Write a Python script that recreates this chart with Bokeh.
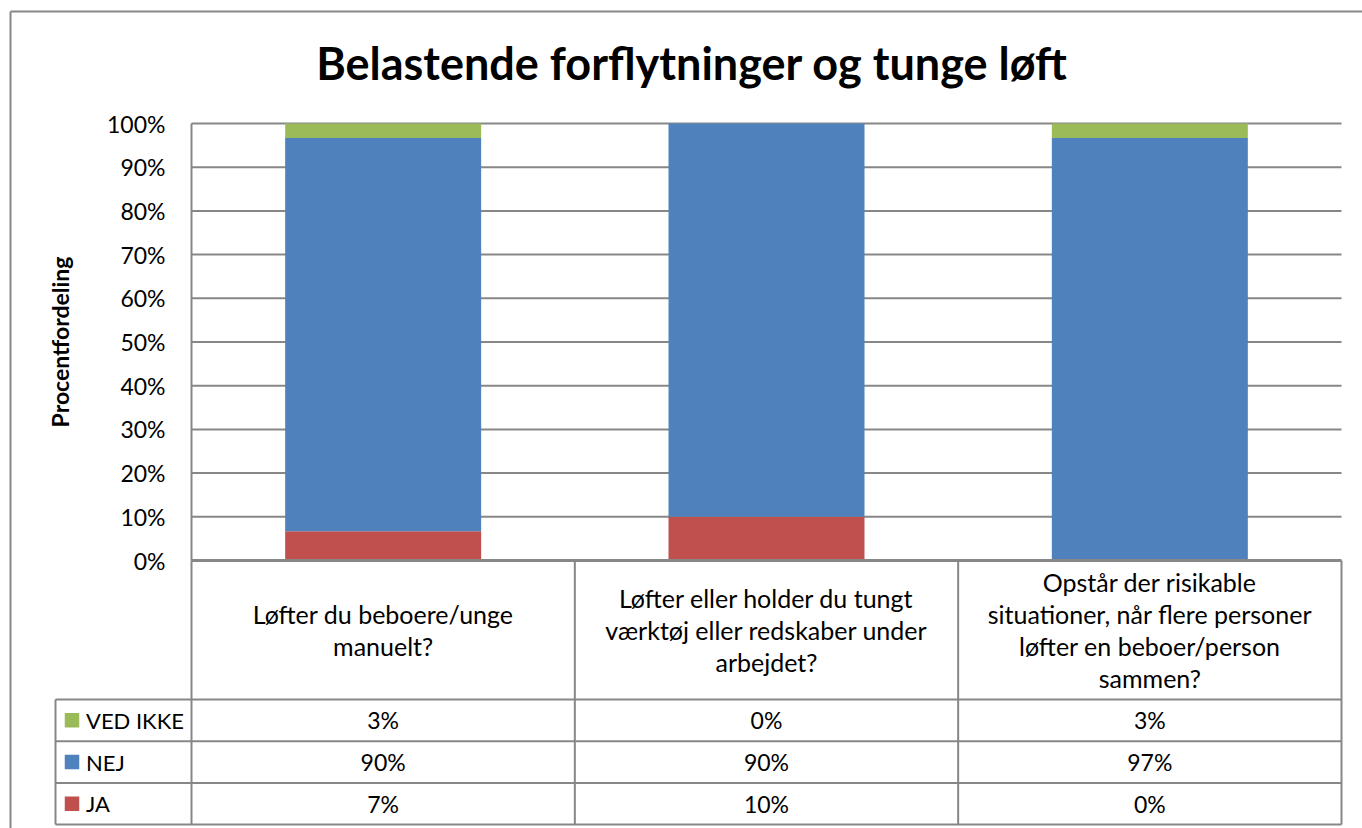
from bokeh.plotting import figure
from bokeh.models import Range1d, FixedTicker, PrintfTickFormatter, ColumnDataSource, Label
from bokeh.embed import file_html
from bokeh.resources import INLINE
from bokeh.core.properties import value

# ---------------- data ----------------
TITLE = "Belastende forflytninger og tunge løft"
Y_LABEL = "Procentfordeling"
QUESTIONS = [
    "Løfter du beboere/unge\nmanuelt?",
    "Løfter eller holder du tungt\nværktøj eller redskaber under\narbejdet?",
    "Opstår der risikable\nsituationer, når flere personer\nløfter en beboer/person\nsammen?",
]
SERIES = ["JA", "NEJ", "VED IKKE"]          # stacking order, bottom -> top
JA = [6.7, 10.0, 0.0]
NEJ = [90.0, 90.0, 96.7]
VED_IKKE = [3.3, 0.0, 3.3]
COLORS = ["#C0504D", "#4F81BD", "#9BBB59"]
Y_TICKS = [0, 10, 20, 30, 40, 50, 60, 70, 80, 90, 100]

# ---------------- layout (pixels) ----------------
W, H = 1362, 828
PLOT_LEFT, PLOT_RIGHT = 191, 1341
PLOT_TOP, PLOT_BOTTOM = 123, 560
HEADER_H = 139
ROW_H = 41.7
LEGEND_COL_LEFT = 55
BAR_W_PX = 196
GRID = "#878787"
FONT = "Lato"

n = len(QUESTIONS)
xpx = n / (PLOT_RIGHT - PLOT_LEFT)
ypx = 100.0 / (PLOT_BOTTOM - PLOT_TOP)
xr0 = -0.5 - PLOT_LEFT * xpx
xr1 = n - 0.5 + (W - PLOT_RIGHT) * xpx
yr0 = -(H - PLOT_BOTTOM) * ypx
yr1 = 100 + PLOT_TOP * ypx

p = figure(width=W, height=H, output_backend="svg", toolbar_location=None,
           x_range=Range1d(xr0, xr1), y_range=Range1d(yr0, yr1),
           min_border=0, min_border_left=0, min_border_right=0,
           min_border_top=0, min_border_bottom=0)
p.outline_line_color = None
p.background_fill_color = "white"
p.border_fill_color = "white"
p.xaxis.visible = False
p.xgrid.visible = False
p.ygrid.visible = False

# ---------------- y axis ----------------
ax = p.yaxis[0]
ax.fixed_location = -0.5
ax.bounds = (0, 100)
ax.ticker = FixedTicker(ticks=Y_TICKS)
ax.formatter = PrintfTickFormatter(format="%d%%")
ax.axis_line_color = GRID
ax.axis_line_width = 2
ax.major_tick_out = 0
ax.major_tick_in = 0
ax.minor_tick_out = 0
ax.minor_tick_in = 0
ax.major_label_standoff = 26
ax.major_label_text_font = FONT
ax.major_label_text_font_size = "23px"
ax.major_label_text_color = "black"
ax.axis_label = Y_LABEL
ax.axis_label_text_font = FONT
ax.axis_label_text_font_style = "bold"
ax.axis_label_text_font_size = "23px"
ax.axis_label_text_color = "black"
ax.axis_label_standoff = 30

# ---------------- gridlines ----------------
gx0 = [-0.5 for t in Y_TICKS[1:]]
gx1 = [n - 0.5 for t in Y_TICKS[1:]]
p.segment(x0=gx0, y0=Y_TICKS[1:], x1=gx1, y1=Y_TICKS[1:], line_color=GRID, line_width=2)

# ---------------- bars ----------------
src = ColumnDataSource(dict(x=list(range(n)), JA=JA, NEJ=NEJ, **{"VED IKKE": VED_IKKE}))
p.vbar_stack(SERIES, x="x", width=BAR_W_PX * xpx, color=COLORS, line_color=None, source=src)

# ---------------- data table ----------------
header_bottom = -HEADER_H * ypx
row_edges = [header_bottom - k * ROW_H * ypx for k in range(len(SERIES) + 1)]
legend_left = xr0 + LEGEND_COL_LEFT * xpx

# horizontal lines
p.segment(x0=[-0.5], y0=[0], x1=[n - 0.5], y1=[0], line_color=GRID, line_width=3)
p.segment(x0=[legend_left] * len(row_edges), y0=row_edges,
          x1=[n - 0.5] * len(row_edges), y1=row_edges, line_color=GRID, line_width=2)
# vertical lines
vx = [i - 0.5 for i in range(n + 1)]
p.segment(x0=vx, y0=[0] * len(vx), x1=vx, y1=[row_edges[-1]] * len(vx),
          line_color=GRID, line_width=2)
p.segment(x0=[legend_left], y0=[header_bottom], x1=[legend_left], y1=[row_edges[-1]],
          line_color=GRID, line_width=2)

# header texts
p.text(x=list(range(n)), y=[header_bottom / 2] * n, text=QUESTIONS,
       text_align="center", text_baseline="middle", text_font=value(FONT),
       text_font_size="25px", text_color="black", text_line_height=1.06)

# rows (top -> bottom: VED IKKE, NEJ, JA)
table_order = list(reversed(range(len(SERIES))))
values = [JA, NEJ, VED_IKKE]
for r, si in enumerate(table_order):
    yc = (row_edges[r] + row_edges[r + 1]) / 2
    p.text(x=list(range(n)), y=[yc] * n, text=["%.0f%%" % v for v in values[si]],
           text_align="center", text_baseline="middle", text_font=value(FONT),
           text_font_size="23px", text_color="black")
    p.scatter(x=[legend_left + 16.5 * xpx], y=[yc], marker="square", size=14.5,
              fill_color=COLORS[si], line_color=None)
    p.text(x=[legend_left + 30.5 * xpx], y=[yc], text=[SERIES[si]],
           text_align="left", text_baseline="middle", text_font=value(FONT),
           text_font_size="22px", text_color="black")

# ---------------- title ----------------
p.add_layout(Label(x=xr0 + 691.5 * xpx, y=yr1 - 62 * ypx, text=TITLE,
                   text_align="center", text_baseline="middle",
                   text_font=FONT, text_font_style="bold", text_font_size="45px",
                   text_color="black"))

# ---------------- outer chart border ----------------
bx = xr0 + 10 * xpx
by = yr1 - 11 * ypx
p.segment(x0=[bx, bx], y0=[by, by], x1=[xr1, bx], y1=[by, yr0], line_color=GRID, line_width=2)

open("out.html", "w").write(file_html(p, INLINE))
